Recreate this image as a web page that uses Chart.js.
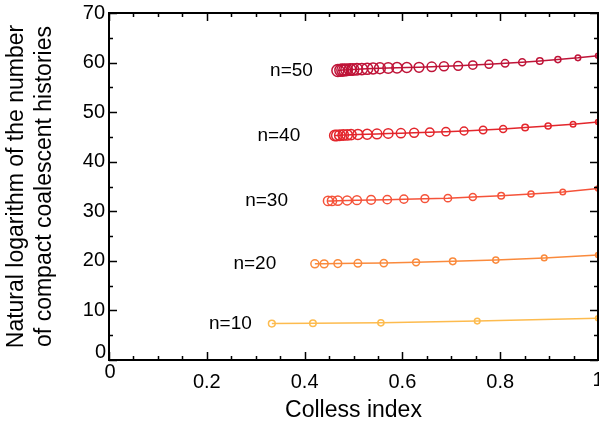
<!DOCTYPE html>
<html>
<head>
<meta charset="utf-8">
<script src="https://cdn.jsdelivr.net/npm/chart.js@4"></script>
<style>
  html, body { margin: 0; padding: 0; background: #fff; }
  #wrap { width: 599px; height: 429px; }
</style>
</head>
<body>
<div id="wrap"><canvas id="chart" width="599" height="429"></canvas></div>
<script>
// values: Colless index (x) and ln(number of histories) (y)
const collessN10 = [0.333, 0.417, 0.556, 0.753, 1.0];
const lnN10 = [7.35, 7.4, 7.5, 7.85, 8.4];

const collessN20 = [0.421, 0.440, 0.468, 0.509, 0.562, 0.628, 0.703, 0.791, 0.890, 1.0];
const lnN20 = [19.4, 19.4, 19.45, 19.5, 19.55, 19.7, 19.9, 20.15, 20.6, 21.2];

const collessN30 = [0.448, 0.456, 0.468, 0.487, 0.507, 0.536, 0.569, 0.603, 0.646, 0.693, 0.744, 0.802, 0.863, 0.928, 1.0];
const lnN30 = [32.1, 32.1, 32.15, 32.2, 32.25, 32.3, 32.35, 32.45, 32.55, 32.65, 32.9, 33.15, 33.5, 33.9, 34.6];

const collessN40 = [0.462, 0.466, 0.472, 0.479, 0.487, 0.495, 0.509, 0.528, 0.548, 0.571, 0.597, 0.624, 0.656, 0.689, 0.726, 0.765, 0.806, 0.851, 0.898, 0.949, 1.0];
const lnN40 = [45.3, 45.3, 45.35, 45.4, 45.4, 45.45, 45.5, 45.55, 45.6, 45.7, 45.75, 45.85, 45.95, 46.05, 46.2, 46.4, 46.6, 46.9, 47.2, 47.55, 48.0];

const collessN50 = [0.468, 0.474, 0.478, 0.482, 0.486, 0.493, 0.499, 0.507, 0.517, 0.528, 0.540, 0.554, 0.571, 0.589, 0.609, 0.634, 0.660, 0.685, 0.714, 0.744, 0.777, 0.810, 0.845, 0.881, 0.918, 0.959, 1.0];
const lnN50 = [58.4, 58.45, 58.5, 58.5, 58.55, 58.6, 58.6, 58.65, 58.7, 58.75, 58.8, 58.85, 58.9, 58.95, 59.0, 59.05, 59.15, 59.25, 59.35, 59.5, 59.65, 59.85, 60.05, 60.3, 60.6, 60.95, 61.4];

const seriesNames = ['n=10', 'n=20', 'n=30', 'n=40', 'n=50'];
const xTicks = [0, 0.2, 0.4, 0.6, 0.8, 1];
const yTicks = [0, 10, 20, 30, 40, 50, 60, 70];

// styles
const colors = ['#fdbb4e', '#fa8a3c', '#f5533a', '#e3262c', '#bf1438'];
const sizeFactor = [1.3, 2.6, 3.9, 5.2, 6.5];
const labelX = [0.292, 0.342, 0.366, 0.391, 0.417];
const FONT = 'Liberation Sans, Arial, sans-serif';

// markers at x=1 are cut by the frame, so no extra room for them
Chart.LineController.prototype.getMaxOverflow = function () { return 0; };

function pairs(xs, ys) {
  return xs.map((x, i) => ({ x: x, y: ys[i] }));
}

const allX = [collessN10, collessN20, collessN30, collessN40, collessN50];
const allY = [lnN10, lnN20, lnN30, lnN40, lnN50];

const datasets = seriesNames.map((name, k) => ({
  label: name,
  data: pairs(allX[k], allY[k]),
  borderColor: colors[k],
  borderWidth: 1.5,
  pointBorderColor: colors[k],
  pointBackgroundColor: 'rgba(0,0,0,0)',
  pointBorderWidth: 1.5,
  pointRadius: ctx => {
    const p = ctx.raw;
    return p ? 2.5 + sizeFactor[k] * (1 - p.x) : 3;
  },
  tension: 0,
  clip: 0
}));

// frame, inward ticks, the end labels of the axes and the n= labels
const framePlugin = {
  id: 'frame',
  afterDatasetsDraw(chart) {
    const ctx = chart.ctx;
    const a = chart.chartArea;
    const xs = chart.scales.x, ys = chart.scales.y;
    ctx.save();
    ctx.strokeStyle = '#000';
    ctx.lineWidth = 1.5;
    ctx.beginPath();
    for (let v = 0; v <= 1.0001; v += 0.05) {
      const px = Math.round(xs.getPixelForValue(v)) + 0.5;
      const major = Math.abs(v * 5 - Math.round(v * 5)) < 1e-6;
      const len = major ? 8 : 4;
      ctx.moveTo(px, a.bottom); ctx.lineTo(px, a.bottom - len);
      ctx.moveTo(px, a.top); ctx.lineTo(px, a.top + len);
    }
    for (let v = 0; v <= 70; v += 5) {
      const py = Math.round(ys.getPixelForValue(v)) + 0.5;
      const len = v % 10 === 0 ? 8 : 4;
      ctx.moveTo(a.left, py); ctx.lineTo(a.left + len, py);
      ctx.moveTo(a.right, py); ctx.lineTo(a.right - len, py);
    }
    ctx.stroke();
    ctx.lineWidth = 2;
    ctx.strokeRect(a.left, a.top, a.right - a.left, a.bottom - a.top);

    ctx.fillStyle = '#000';
    ctx.font = '20px ' + FONT;
    ctx.textBaseline = 'middle';
    ctx.textAlign = 'right';
    ctx.fillText('0', a.left - 3, a.bottom - 8);
    ctx.textAlign = 'center';
    ctx.fillText('0', a.left + 1, a.bottom + 12);
    ctx.fillText('1', xs.getPixelForValue(1), a.bottom + 20);

    ctx.font = '19px ' + FONT;
    ctx.textAlign = 'right';
    seriesNames.forEach((name, k) => {
      ctx.fillText(name, xs.getPixelForValue(labelX[k]), ys.getPixelForValue(allY[k][0]));
    });
    ctx.restore();
  }
};

new Chart(document.getElementById('chart'), {
  type: 'line',
  data: { datasets: datasets },
  options: {
    responsive: false,
    animation: false,
    layout: { padding: { top: 13, right: 1, left: 0, bottom: 0 } },
    plugins: { legend: { display: false }, tooltip: { enabled: false } },
    scales: {
      x: {
        type: 'linear',
        min: 0,
        max: 1,
        afterBuildTicks: s => { s.ticks = xTicks.map(v => ({ value: v })); },
        ticks: {
          color: '#000',
          font: { family: FONT, size: 20 },
          padding: 10,
          maxRotation: 0,
          autoSkip: false,
          callback: v => (v === 0 || v === 1) ? '' : v.toFixed(1)
        },
        grid: { display: false, drawTicks: false },
        border: { display: false },
        title: {
          display: true,
          text: 'Colless index',
          color: '#000',
          font: { family: FONT, size: 23 },
          padding: { top: 0, bottom: 5 }
        },
        afterFit: s => { s.height = 69; s.paddingLeft = 0; s.paddingRight = 0; }
      },
      y: {
        type: 'linear',
        min: 0,
        max: 70,
        afterBuildTicks: s => { s.ticks = yTicks.map(v => ({ value: v })); },
        ticks: {
          color: '#000',
          font: { family: FONT, size: 20 },
          padding: 4,
          autoSkip: false,
          callback: v => v === 0 ? '' : String(v)
        },
        grid: { display: false, drawTicks: false },
        border: { display: false },
        title: {
          display: true,
          text: ['Natural logarithm of the number', 'of compact coalescent histories'],
          color: '#000',
          font: { family: FONT, size: 23 },
          padding: { top: 3, bottom: 0 }
        },
        afterFit: s => { s.width = 109; s.paddingTop = 0; s.paddingBottom = 0; }
      }
    }
  },
  plugins: [framePlugin]
});
</script>
</body>
</html>
